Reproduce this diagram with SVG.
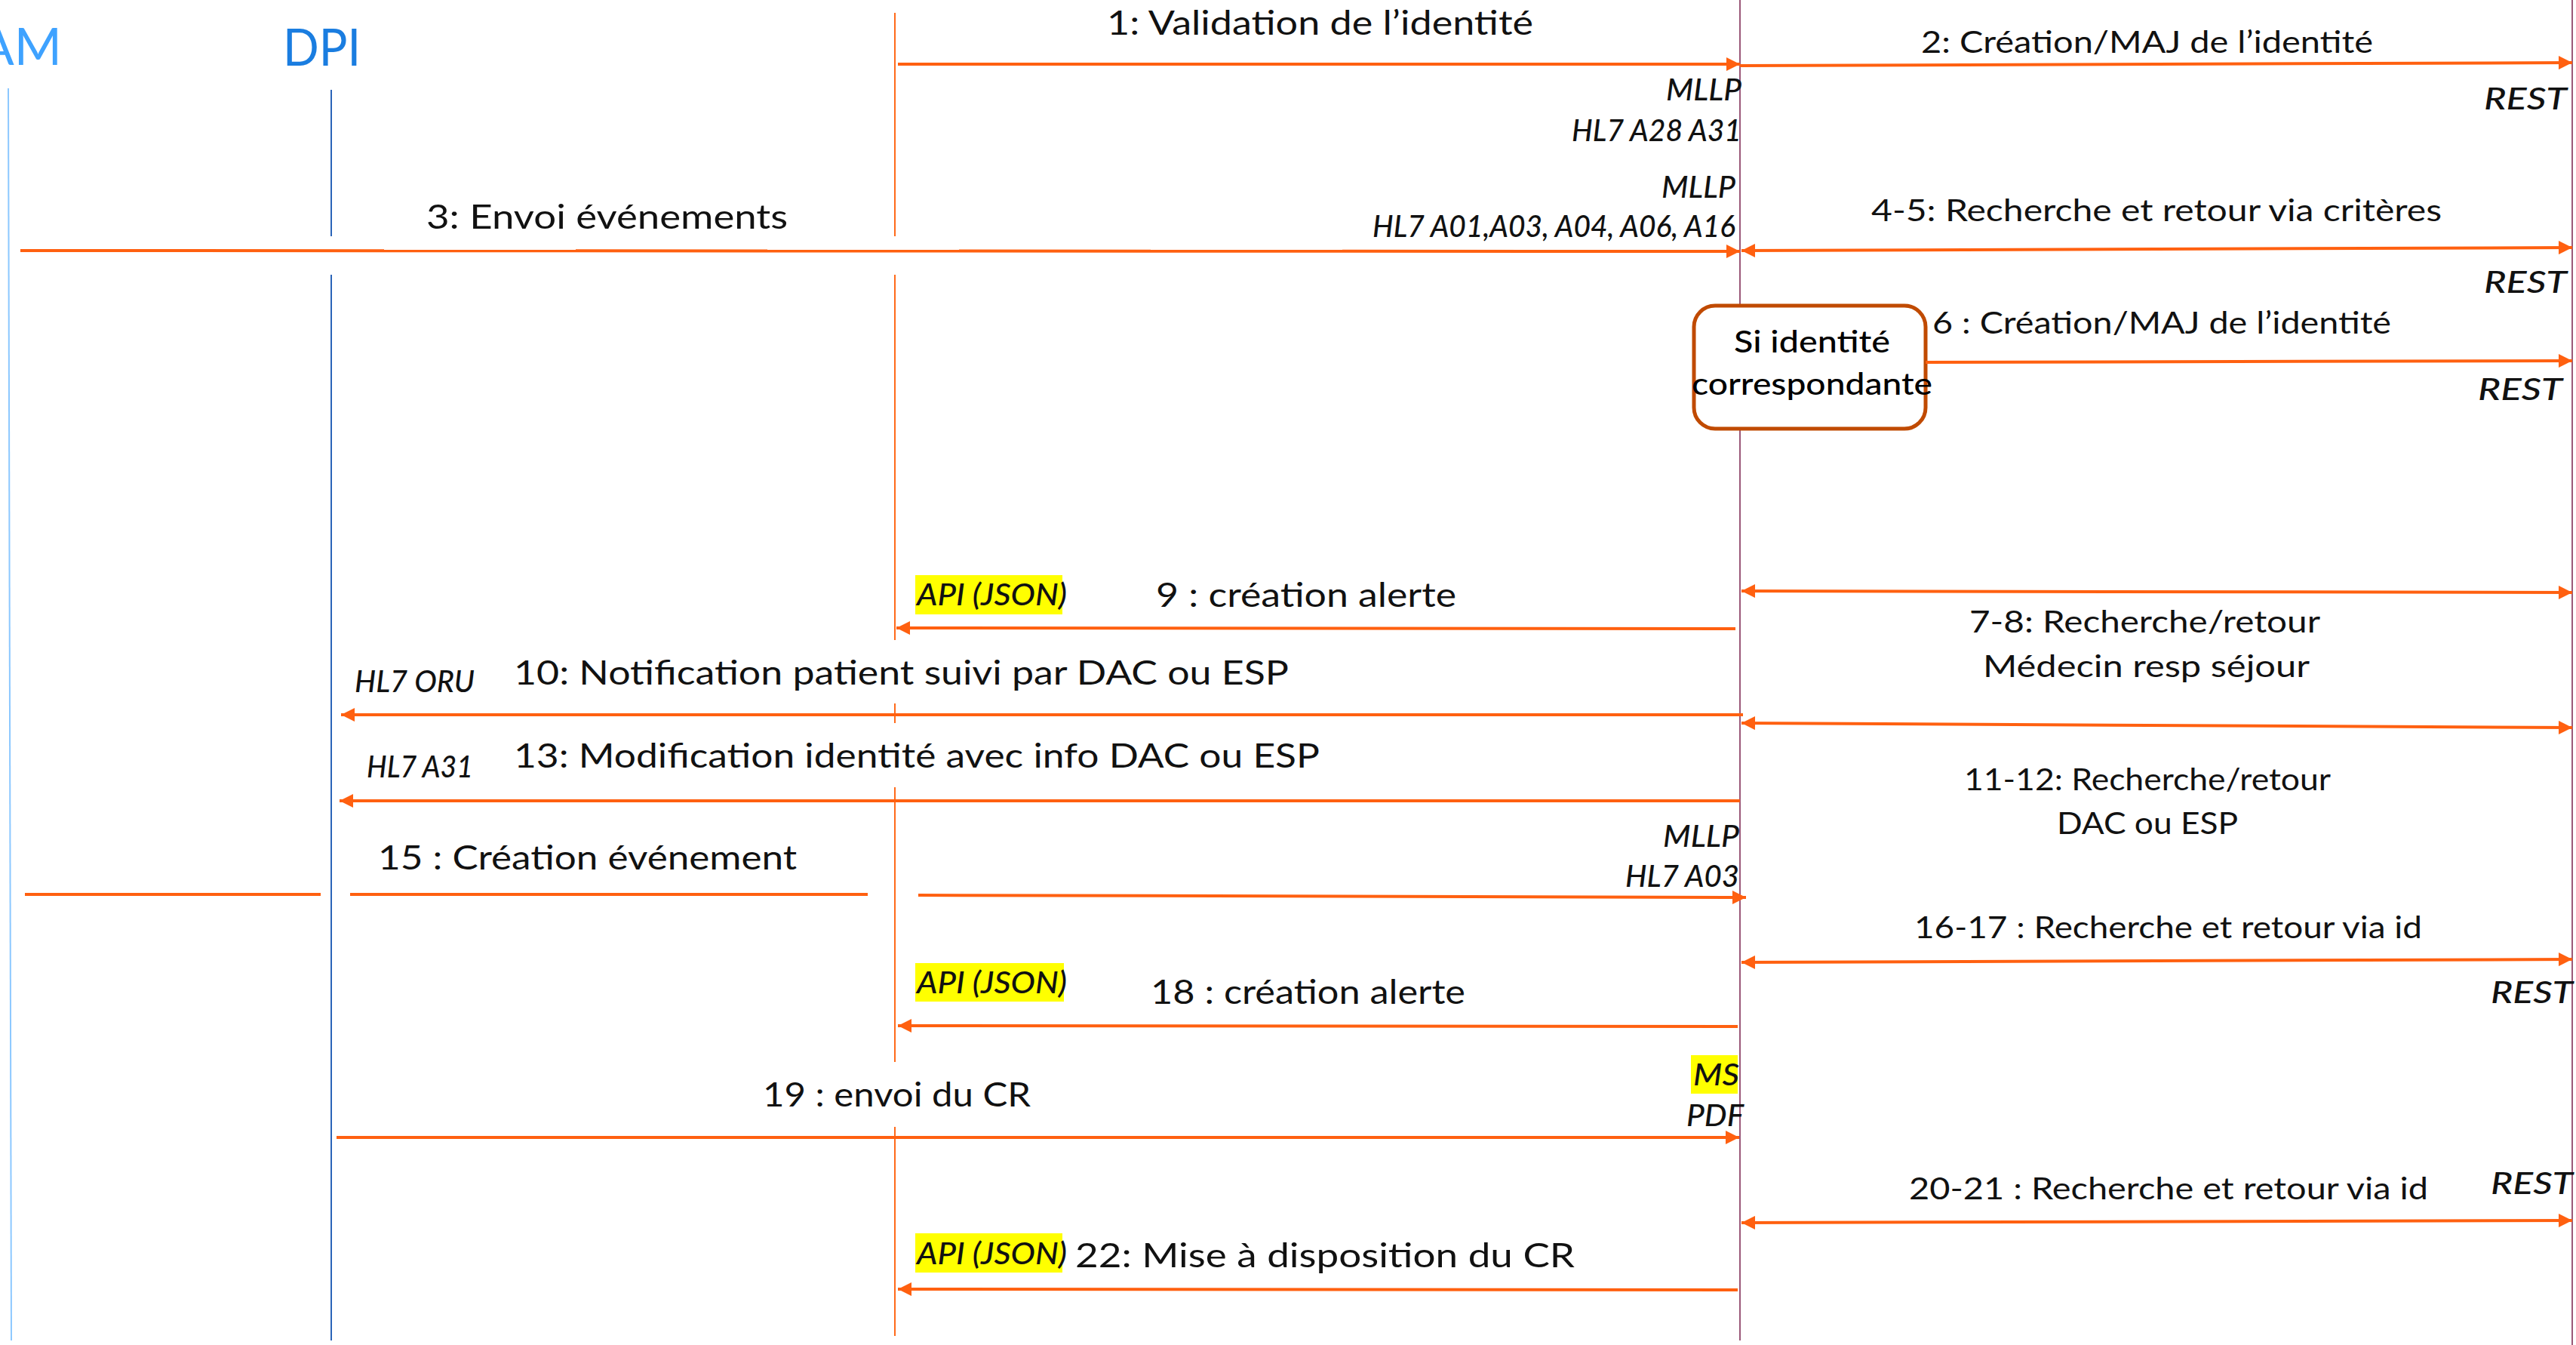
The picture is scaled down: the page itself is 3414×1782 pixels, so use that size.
<svg xmlns="http://www.w3.org/2000/svg" width="3414" height="1782" viewBox="0 0 3414 1782">
<style>
.bg{fill:#ffffff}
.ll-am{stroke:#8cc8ff;stroke-width:2;fill:none}
.ll-dpi{stroke:#2a64b8;stroke-width:2;fill:none}
.ll-or{stroke:#ff6a1a;stroke-width:2;fill:none}
.ll-mv{stroke:#9a5878;stroke-width:2;fill:none}
.msg{stroke:#ff6010;stroke-width:4;fill:none}
.msgE{stroke:#ff6010;stroke-width:4;fill:none;marker-end:url(#ah)}
.msgB{stroke:#ff6010;stroke-width:4;fill:none;marker-end:url(#ah);marker-start:url(#ahs)}
.hdr{font-family:Lato,"Open Sans",sans-serif;font-size:68px}
.lbl{font-family:Lato,"Open Sans",sans-serif;font-size:44px;fill:#111}
.lblr{font-family:Lato,"Open Sans",sans-serif;font-size:40px;fill:#111}
.it{font-family:Lato,"Open Sans",sans-serif;font-size:40px;font-style:italic;font-weight:500;fill:#111}
.hl{fill:#ffff00}
.box{fill:#ffffff;stroke:#c04a00;stroke-width:5}
.boxt{font-family:Lato,"Open Sans",sans-serif;font-size:41px;font-weight:500;fill:#000}
</style>
<defs>
<marker id="ah" markerUnits="userSpaceOnUse" markerWidth="18" markerHeight="18" refX="16" refY="8" orient="auto" viewBox="0 0 16 16">
<path d="M0,0 L16,8 L0,16 z" fill="#ff6010"/>
</marker>
<marker id="ahs" markerUnits="userSpaceOnUse" markerWidth="18" markerHeight="18" refX="16" refY="8" orient="auto-start-reverse" viewBox="0 0 16 16">
<path d="M0,0 L16,8 L0,16 z" fill="#ff6010"/>
</marker>
</defs>
<rect class="bg" x="0" y="0" width="3414" height="1782"/>

<g id="node-AM">
<text class="hdr" x="82" y="86" text-anchor="end" fill="#3ea2ff">AM</text>
<path class="ll-am" d="M11,117 L15,1776"/>
</g>

<g id="node-DPI">
<text class="hdr" x="375" y="87" fill="#1a7de0" textLength="103" lengthAdjust="spacingAndGlyphs">DPI</text>
<path class="ll-dpi" d="M439,119 L439,313 M439,364 L439,1776"/>
</g>

<g id="node-3">
<path class="ll-or" d="M1186,17 L1186,313 M1186,364 L1186,848 M1186,932 L1186,958 M1186,1043 L1186,1407 M1186,1493 L1186,1770"/>
</g>

<g id="node-4">
<path class="ll-mv" d="M2306,0 L2306,1776"/>
</g>

<g id="node-5">
<path class="ll-mv" d="M3409,0 L3409,1782"/>
</g>

<g id="node-si-identite">
<rect class="box" x="2245" y="405" width="307" height="163" rx="28" ry="28"/>
<text class="boxt" x="2298" y="467" textLength="207" lengthAdjust="spacingAndGlyphs">Si identité</text>
<text class="boxt" x="2242" y="523" textLength="319" lengthAdjust="spacingAndGlyphs">correspondante</text>
</g>

<g id="connectors">
<g id="msg1">
<path class="msgE" d="M1190,85 L2306,85"/>
<text class="lbl" x="1467" y="46" textLength="565" lengthAdjust="spacingAndGlyphs">1: Validation de l’identité</text>
<text class="it" x="2208" y="133" textLength="100" lengthAdjust="spacingAndGlyphs">MLLP</text>
<text class="it" x="2083" y="187" textLength="225" lengthAdjust="spacingAndGlyphs">HL7 A28 A31</text>
</g>
<g id="msg2">
<path class="msgE" d="M2306,87 L3409,83"/>
<text class="lblr" x="2546" y="70" textLength="599" lengthAdjust="spacingAndGlyphs">2: Création/MAJ de l’identité</text>
<text class="it" x="3292" y="145" textLength="110" lengthAdjust="spacingAndGlyphs">REST</text>
</g>
<g id="msg3">
<path class="msgE" d="M27,332 L2306,333"/>
<text class="lbl" x="565" y="303" textLength="479" lengthAdjust="spacingAndGlyphs">3: Envoi événements</text>
<text class="it" x="2202" y="262" textLength="98" lengthAdjust="spacingAndGlyphs">MLLP</text>
<text class="it" x="1819" y="314" textLength="481" lengthAdjust="spacingAndGlyphs">HL7 A01,A03, A04, A06, A16</text>
</g>
<g id="msg4-5">
<path class="msgB" d="M2308,332 L3409,328"/>
<text class="lblr" x="2480" y="293" textLength="756" lengthAdjust="spacingAndGlyphs">4-5: Recherche et retour via critères</text>
<text class="it" x="3292" y="388" textLength="110" lengthAdjust="spacingAndGlyphs">REST</text>
</g>
<g id="msg6">
<path class="msgE" d="M2552,480 L3409,478"/>
<text class="lblr" x="2561" y="442" textLength="608" lengthAdjust="spacingAndGlyphs">6 : Création/MAJ de l’identité</text>
<text class="it" x="3284" y="530" textLength="112" lengthAdjust="spacingAndGlyphs">REST</text>
</g>
<g id="msg7-8">
<path class="msgB" d="M2308,783 L3409,785"/>
<text class="lblr" x="2610" y="838" textLength="465" lengthAdjust="spacingAndGlyphs">7-8: Recherche/retour</text>
<text class="lblr" x="2628" y="897" textLength="433" lengthAdjust="spacingAndGlyphs">Médecin resp séjour</text>
</g>
<g id="msg9">
<path class="msgE" d="M2300,833 L1188,832"/>
<rect class="hl" x="1213" y="762" width="195" height="52"/>
<text class="it" x="1215" y="802" textLength="199" lengthAdjust="spacingAndGlyphs">API (JSON)</text>
<text class="lbl" x="1532" y="804" textLength="398" lengthAdjust="spacingAndGlyphs">9 : création alerte</text>
</g>
<g id="msg10">
<path class="msgE" d="M2310,947 L452,947"/>
<text class="it" x="470" y="917" textLength="159" lengthAdjust="spacingAndGlyphs">HL7 ORU</text>
<text class="lbl" x="681" y="907" textLength="1027" lengthAdjust="spacingAndGlyphs">10: Notification patient suivi par DAC ou ESP</text>
</g>
<g id="msg11-12">
<path class="msgB" d="M2308,958 L3409,964"/>
<text class="lblr" x="2603" y="1047" textLength="486" lengthAdjust="spacingAndGlyphs">11-12: Recherche/retour</text>
<text class="lblr" x="2726" y="1105" textLength="240" lengthAdjust="spacingAndGlyphs">DAC ou ESP</text>
</g>
<g id="msg13">
<path class="msgE" d="M2306,1061 L450,1061"/>
<text class="it" x="486" y="1030" textLength="141" lengthAdjust="spacingAndGlyphs">HL7 A31</text>
<text class="lbl" x="681" y="1017" textLength="1068" lengthAdjust="spacingAndGlyphs">13: Modification identité avec info DAC ou ESP</text>
</g>
<g id="msg15">
<path class="msg" d="M33,1185 L425,1185 M464,1185 L1150,1185"/>
<path class="msgE" d="M1217,1186 L2314,1189"/>
<text class="lbl" x="501" y="1152" textLength="555" lengthAdjust="spacingAndGlyphs">15 : Création événement</text>
<text class="it" x="2204" y="1122" textLength="101" lengthAdjust="spacingAndGlyphs">MLLP</text>
<text class="it" x="2154" y="1175" textLength="151" lengthAdjust="spacingAndGlyphs">HL7 A03</text>
</g>
<g id="msg16-17">
<path class="msgB" d="M2308,1275 L3409,1271"/>
<text class="lblr" x="2537" y="1243" textLength="673" lengthAdjust="spacingAndGlyphs">16-17 : Recherche et retour via id</text>
<text class="it" x="3301" y="1329" textLength="109" lengthAdjust="spacingAndGlyphs">REST</text>
</g>
<g id="msg18">
<path class="msgE" d="M2303,1360 L1190,1359"/>
<rect class="hl" x="1213" y="1276" width="197" height="51"/>
<text class="it" x="1215" y="1316" textLength="199" lengthAdjust="spacingAndGlyphs">API (JSON)</text>
<text class="lbl" x="1525" y="1330" textLength="417" lengthAdjust="spacingAndGlyphs">18 : création alerte</text>
</g>
<g id="msg19">
<path class="msgE" d="M446,1507 L2305,1507"/>
<text class="lbl" x="1011" y="1466" textLength="355" lengthAdjust="spacingAndGlyphs">19 : envoi du CR</text>
<rect class="hl" x="2241" y="1398" width="62" height="51"/>
<text class="it" x="2244" y="1438" textLength="61" lengthAdjust="spacingAndGlyphs">MS</text>
<text class="it" x="2235" y="1492" textLength="76" lengthAdjust="spacingAndGlyphs">PDF</text>
</g>
<g id="msg20-21">
<path class="msgB" d="M2308,1620 L3409,1617"/>
<text class="lblr" x="2530" y="1589" textLength="688" lengthAdjust="spacingAndGlyphs">20-21 : Recherche et retour via id</text>
<text class="it" x="3301" y="1582" textLength="109" lengthAdjust="spacingAndGlyphs">REST</text>
</g>
<g id="msg22">
<path class="msgE" d="M2303,1709 L1190,1708"/>
<rect class="hl" x="1213" y="1634" width="195" height="52"/>
<text class="it" x="1215" y="1675" textLength="199" lengthAdjust="spacingAndGlyphs">API (JSON)</text>
<text class="lbl" x="1425" y="1679" textLength="662" lengthAdjust="spacingAndGlyphs">22: Mise à disposition du CR</text>
</g>
</g>
</svg>
